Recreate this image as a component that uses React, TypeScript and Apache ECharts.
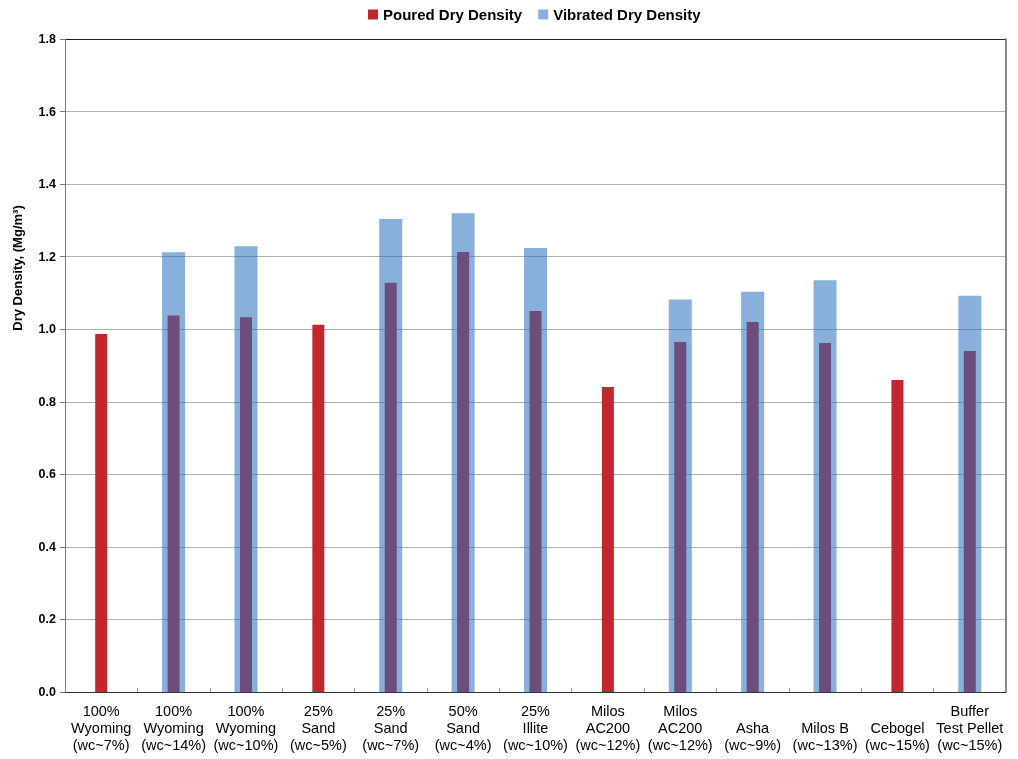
import React, { useEffect, useRef } from "react";
import * as echarts from "echarts";

const categories: string[] = [
  "100%\nWyoming\n(wc~7%)",
  "100%\nWyoming\n(wc~14%)",
  "100%\nWyoming\n(wc~10%)",
  "25%\nSand\n(wc~5%)",
  "25%\nSand\n(wc~7%)",
  "50%\nSand\n(wc~4%)",
  "25%\nIllite\n(wc~10%)",
  "Milos\nAC200\n(wc~12%)",
  "Milos\nAC200\n(wc~12%)",
  "\nAsha\n(wc~9%)",
  "\nMilos B\n(wc~13%)",
  "\nCebogel\n(wc~15%)",
  "Buffer\nTest Pellet\n(wc~15%)",
];

const pouredDryDensity: (number | null)[] = [
  0.987, 1.038, 1.033, 1.012, 1.128, 1.213, 1.05, 0.841, 0.965, 1.02, 0.962, 0.86, 0.94,
];

const vibratedDryDensity: (number | null)[] = [
  null, 1.212, 1.229, null, 1.304, 1.32, 1.224, null, 1.082, 1.103, 1.135, null, 1.092,
];

const yTicks = [0, 0.2, 0.4, 0.6, 0.8, 1.0, 1.2, 1.4, 1.6, 1.8];

const FONT = "'Liberation Sans', Arial, sans-serif";

export default function App() {
  const ref = useRef<HTMLDivElement>(null);

  useEffect(() => {
    if (!ref.current) return;
    const chart = echarts.init(ref.current, undefined, { renderer: "svg" });
    const gridColors = yTicks.map((v, i) => (i === yTicks.length - 1 ? "#222222" : "#b0b0b0"));
    chart.setOption({
      animation: false,
      textStyle: { fontFamily: FONT },
      legend: {
        top: 2,
        left: 363,
        itemWidth: 10,
        itemHeight: 10,
        itemGap: 16,
        icon: "rect",
        textStyle: { fontFamily: FONT, fontWeight: "bold", fontSize: 15, color: "#000" },
        data: ["Poured Dry Density", "Vibrated Dry Density"],
      },
      grid: { left: 65, right: 12, top: 39, bottom: 67 },
      xAxis: [
        {
          type: "category",
          data: categories,
          axisLine: { show: true, lineStyle: { color: "#333", width: 1 } },
          axisTick: { show: true, inside: true, length: 4, lineStyle: { color: "#999" } },
          axisLabel: {
            interval: 0,
            color: "#000",
            fontFamily: FONT,
            fontSize: 14.5,
            lineHeight: 17,
            margin: 10,
          },
        },
        {
          type: "category",
          data: categories,
          show: false,
        },
      ],
      yAxis: [
        {
          type: "value",
          min: 0,
          max: 1.8,
          interval: 0.2,
          axisLine: { show: true, lineStyle: { color: "#777", width: 1 } },
          axisTick: { show: true, length: 5, lineStyle: { color: "#777" } },
          axisLabel: {
            color: "#000",
            fontWeight: "bold",
            fontSize: 12.5,
            fontFamily: FONT,
            margin: 9,
            formatter: (v: number) => v.toFixed(1),
          },
          splitLine: { show: true, lineStyle: { color: gridColors, width: 1 } },
        },
        {
          type: "value",
          position: "right",
          min: 0,
          max: 1.8,
          interval: 0.2,
          axisLine: { show: true, lineStyle: { color: "#888", width: 2 } },
          axisTick: { show: false },
          axisLabel: { show: false },
          splitLine: { show: false },
        },
      ],
      graphic: [
        {
          type: "text",
          x: 17,
          y: 268,
          rotation: Math.PI / 2,
          style: {
            text: "Dry Density, (Mg/m³)",
            fontFamily: FONT,
            fontWeight: "bold",
            fontSize: 13,
            fill: "#000",
            textAlign: "center",
            textVerticalAlign: "middle",
          },
        },
      ],
      series: [
        {
          name: "Poured Dry Density",
          type: "bar",
          xAxisIndex: 0,
          yAxisIndex: 0,
          barWidth: 12,
          data: pouredDryDensity,
          itemStyle: { color: "#c1272d" },
          z: 2,
        },
        {
          name: "Vibrated Dry Density",
          type: "bar",
          xAxisIndex: 1,
          yAxisIndex: 0,
          barWidth: 23,
          data: vibratedDryDensity,
          itemStyle: { color: "rgb(40,110,190)", opacity: 0.55 },
          z: 3,
        },
      ],
    });
    return () => chart.dispose();
  }, []);

  return (
    <div
      ref={ref}
      style={{ position: "fixed", left: 0, top: 0, width: 1018, height: 759 }}
    />
  );
}
